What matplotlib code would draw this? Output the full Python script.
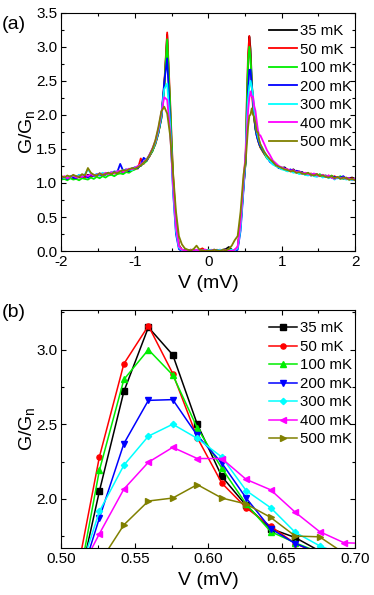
import numpy as np
import matplotlib
matplotlib.use('Agg')
import matplotlib.pyplot as plt
from matplotlib.ticker import MultipleLocator, FormatStrFormatter

plt.rcParams['font.family'] = ['Liberation Sans', 'DejaVu Sans']
plt.rcParams['axes.unicode_minus'] = False
plt.rcParams['mathtext.fontset'] = 'custom'
plt.rcParams['mathtext.rm'] = 'Liberation Sans'

# --- data -------------------------------------------------------------
labels = ['35 mK', '50 mK', '100 mK', '200 mK', '300 mK', '400 mK', '500 mK']
colors = ['#000000', '#ff0000', '#00ee00', '#0000ff', '#00ffff', '#ff00ff', '#808000']
markers = ['s', 'o', '^', 'v', 'D', '<', '>']

# voltage grids (mV)
v_left = np.linspace(-2.0, 0.48, 63)
v_peak = [0.5092, 0.5258, 0.5425, 0.5592, 0.5758, 0.5925, 0.6092,
          0.6258, 0.6425, 0.6592, 0.6758, 0.6925, 0.7092]
v_right = np.linspace(0.76, 2.0, 32)

# G/Gn around the positive coherence peak (panel b, also used in a)
g35_peak = [1.31, 2.05, 2.72, 3.15, 2.965, 2.50, 2.15, 1.955, 1.80, 1.74, 1.65, 1.58, 1.53]
g50_peak = [1.43, 2.28, 2.905, 3.16, 2.84, 2.41, 2.105, 1.94, 1.815, 1.70, 1.63, 1.57, 1.52]
g100_peak = [1.31, 2.19, 2.80, 3.00, 2.83, 2.475, 2.205, 1.965, 1.78, 1.705, 1.64, 1.58, 1.53]
g200_peak = [1.35, 1.87, 2.37, 2.66, 2.665, 2.425, 2.24, 2.005, 1.80, 1.70, 1.635, 1.58, 1.54]
g300_peak = [1.41, 1.915, 2.225, 2.42, 2.50, 2.405, 2.28, 2.055, 1.94, 1.775, 1.685, 1.62, 1.57]
g400_peak = [1.45, 1.765, 2.065, 2.245, 2.345, 2.27, 2.27, 2.13, 2.06, 1.91, 1.78, 1.705, 1.70]
g500_peak = [1.32, 1.57, 1.825, 1.985, 2.005, 2.095, 2.005, 1.965, 1.875, 1.75, 1.745, 1.635, 1.57]

# G/Gn from -2 to 0.48 mV
g35_left = [1.06, 1.08, 1.07, 1.09, 1.06, 1.10, 1.08, 1.11, 1.09, 1.12,
            1.10, 1.12, 1.11, 1.14, 1.12, 1.13, 1.15, 1.13, 1.16, 1.15,
            1.17, 1.15, 1.19, 1.17, 1.21, 1.20, 1.24, 1.25, 1.30, 1.33,
            1.40, 1.47, 1.59, 1.74, 1.95, 2.40, 3.18, 2.05, 1.02, 0.38,
            0.08, 0.02, 0.01, 0.00, 0.01, 0.02, 0.00, 0.01, 0.02, 0.01,
            0.00, 0.01, 0.02, 0.00, 0.01, 0.02, 0.03, 0.06, 0.02, 0.01,
            0.05, 0.38, 0.95]
g50_left = [1.08, 1.06, 1.09, 1.07, 1.08, 1.07, 1.10, 1.09, 1.08, 1.11,
            1.09, 1.12, 1.10, 1.13, 1.11, 1.14, 1.13, 1.15, 1.14, 1.17,
            1.15, 1.18, 1.17, 1.20, 1.19, 1.22, 1.21, 1.36, 1.28, 1.34,
            1.39, 1.48, 1.57, 1.73, 1.96, 2.45, 3.21, 2.22, 1.12, 0.42,
            0.09, 0.02, 0.00, 0.01, 0.02, 0.00, 0.01, 0.02, 0.04, 0.01,
            0.02, 0.00, 0.01, 0.02, 0.00, 0.01, 0.00, 0.02, 0.01, 0.02,
            0.06, 0.40, 1.00]
g100_left = [1.05, 1.06, 1.04, 1.07, 1.05, 1.06, 1.04, 1.07, 1.06, 1.05,
             1.08, 1.06, 1.09, 1.07, 1.10, 1.08, 1.11, 1.12, 1.10, 1.13,
             1.14, 1.13, 1.16, 1.15, 1.18, 1.20, 1.22, 1.26, 1.29, 1.32,
             1.40, 1.47, 1.58, 1.73, 1.94, 2.42, 3.11, 2.15, 1.08, 0.40,
             0.08, 0.01, 0.02, 0.00, 0.01, 0.02, 0.01, 0.00, 0.02, 0.01,
             0.01, 0.02, 0.00, 0.01, 0.02, 0.00, 0.01, 0.03, 0.01, 0.00,
             0.04, 0.37, 0.96]
g200_left = [1.07, 1.09, 1.06, 1.10, 1.08, 1.07, 1.12, 1.09, 1.11, 1.08,
             1.12, 1.10, 1.13, 1.11, 1.14, 1.12, 1.15, 1.14, 1.17, 1.16,
             1.28, 1.18, 1.20, 1.18, 1.21, 1.23, 1.22, 1.27, 1.37, 1.33,
             1.41, 1.50, 1.60, 1.75, 1.97, 2.48, 2.83, 1.90, 0.88, 0.25,
             0.03, 0.00, 0.01, 0.00, 0.02, 0.01, 0.00, 0.01, 0.00, 0.02,
             0.01, 0.00, 0.02, 0.01, 0.00, 0.01, 0.02, 0.00, 0.01, 0.00,
             0.02, 0.30, 0.90]
g300_left = [1.09, 1.07, 1.10, 1.08, 1.11, 1.09, 1.12, 1.10, 1.13, 1.20,
             1.14, 1.11, 1.13, 1.12, 1.15, 1.13, 1.14, 1.16, 1.15, 1.17,
             1.16, 1.19, 1.18, 1.20, 1.19, 1.22, 1.24, 1.27, 1.30, 1.35,
             1.41, 1.49, 1.60, 1.76, 1.99, 2.38, 2.46, 1.85, 0.92, 0.30,
             0.05, 0.01, 0.00, 0.02, 0.01, 0.00, 0.01, 0.02, 0.01, 0.00,
             0.02, 0.01, 0.00, 0.01, 0.02, 0.01, 0.00, 0.01, 0.02, 0.01,
             0.04, 0.33, 0.93]
g400_left = [1.08, 1.10, 1.07, 1.09, 1.11, 1.08, 1.10, 1.09, 1.12, 1.10,
             1.13, 1.11, 1.12, 1.14, 1.12, 1.15, 1.13, 1.16, 1.14, 1.17,
             1.18, 1.16, 1.19, 1.21, 1.20, 1.22, 1.25, 1.27, 1.31, 1.34,
             1.42, 1.51, 1.62, 1.79, 2.03, 2.26, 2.22, 1.75, 0.98, 0.36,
             0.07, 0.02, 0.01, 0.00, 0.02, 0.01, 0.02, 0.00, 0.01, 0.02,
             0.00, 0.01, 0.02, 0.00, 0.01, 0.00, 0.02, 0.01, 0.00, 0.02,
             0.06, 0.42, 1.02]
g500_left = [1.10, 1.08, 1.11, 1.09, 1.12, 1.10, 1.09, 1.13, 1.11, 1.22,
             1.15, 1.12, 1.11, 1.14, 1.12, 1.13, 1.15, 1.13, 1.16, 1.14,
             1.17, 1.19, 1.18, 1.20, 1.22, 1.21, 1.23, 1.26, 1.30, 1.34,
             1.41, 1.50, 1.63, 1.82, 2.05, 2.12, 2.02, 1.70, 1.15, 0.58,
             0.22, 0.10, 0.04, 0.02, 0.01, 0.03, 0.08, 0.02, 0.01, 0.00,
             0.01, 0.00, 0.02, 0.01, 0.00, 0.02, 0.01, 0.03, 0.08, 0.16,
             0.22, 0.58, 1.12]

# G/Gn from 0.76 to 2 mV
g35_right = [1.44, 1.38, 1.32, 1.30, 1.25, 1.24, 1.22, 1.23, 1.19, 1.18, 1.20, 1.16, 1.15, 1.16, 1.13, 1.14,
             1.12, 1.13, 1.11, 1.12, 1.10, 1.11, 1.09, 1.10, 1.08, 1.09, 1.07, 1.08, 1.06, 1.07, 1.08, 1.06]
g50_right = [1.43, 1.37, 1.34, 1.28, 1.27, 1.23, 1.21, 1.20, 1.20, 1.17, 1.18, 1.15, 1.16, 1.13, 1.15, 1.12,
             1.14, 1.11, 1.13, 1.10, 1.12, 1.09, 1.11, 1.08, 1.10, 1.07, 1.09, 1.06, 1.08, 1.05, 1.07, 1.04]
g100_right = [1.44, 1.36, 1.33, 1.29, 1.26, 1.22, 1.23, 1.19, 1.18, 1.19, 1.16, 1.17, 1.14, 1.15, 1.12, 1.13,
              1.11, 1.12, 1.10, 1.13, 1.09, 1.10, 1.08, 1.11, 1.07, 1.08, 1.10, 1.06, 1.07, 1.05, 1.06, 1.05]
g200_right = [1.45, 1.39, 1.31, 1.28, 1.27, 1.22, 1.21, 1.22, 1.18, 1.20, 1.16, 1.18, 1.17, 1.15, 1.13, 1.14,
              1.11, 1.13, 1.12, 1.10, 1.11, 1.09, 1.10, 1.08, 1.09, 1.07, 1.08, 1.10, 1.06, 1.07, 1.05, 1.06]
g300_right = [1.47, 1.37, 1.32, 1.27, 1.25, 1.23, 1.20, 1.19, 1.17, 1.18, 1.15, 1.16, 1.13, 1.14, 1.12, 1.11,
              1.13, 1.10, 1.09, 1.11, 1.08, 1.10, 1.07, 1.09, 1.05, 1.08, 1.06, 1.07, 1.05, 1.06, 1.04, 1.05]
g400_right = [1.58, 1.48, 1.41, 1.33, 1.29, 1.25, 1.23, 1.21, 1.20, 1.18, 1.19, 1.16, 1.17, 1.14, 1.15, 1.13,
              1.12, 1.14, 1.11, 1.10, 1.12, 1.09, 1.11, 1.08, 1.06, 1.09, 1.07, 1.08, 1.06, 1.07, 1.05, 1.06]
g500_right = [1.46, 1.40, 1.35, 1.31, 1.26, 1.24, 1.22, 1.20, 1.19, 1.17, 1.18, 1.15, 1.16, 1.14, 1.13, 1.15,
              1.12, 1.11, 1.13, 1.10, 1.11, 1.09, 1.08, 1.10, 1.07, 1.09, 1.06, 1.08, 1.07, 1.05, 1.06, 1.04]

peaks = [g35_peak, g50_peak, g100_peak, g200_peak, g300_peak, g400_peak, g500_peak]
lefts = [g35_left, g50_left, g100_left, g200_left, g300_left, g400_left, g500_left]
rights = [g35_right, g50_right, g100_right, g200_right, g300_right, g400_right, g500_right]

# --- figure -----------------------------------------------------------
fig = plt.figure(figsize=(3.74, 5.95), dpi=100)
ax1 = fig.add_axes([0.1644, 0.578, 0.785, 0.4006])
ax2 = fig.add_axes([0.1644, 0.079, 0.785, 0.400])

v_full = np.concatenate([v_left, v_peak, v_right])
for lab, c, gl, gp, gr in zip(labels, colors, lefts, peaks, rights):
    g_full = np.concatenate([gl, gp, gr])
    ax1.plot(v_full, g_full, color=c, lw=1.3, label=lab)

for lab, c, m, gp in zip(labels, colors, markers, peaks):
    ms = 3.2 if m == 'D' else 3.7
    ax2.plot(v_peak, gp, color=c, lw=1.1, marker=m, ms=ms, label=lab)

ax1.set_xlim(-2, 2)
ax1.set_ylim(0, 3.5)
ax1.xaxis.set_major_locator(MultipleLocator(1))
ax1.xaxis.set_minor_locator(MultipleLocator(0.5))
ax1.yaxis.set_major_locator(MultipleLocator(0.5))
ax1.yaxis.set_minor_locator(MultipleLocator(0.25))
ax1.yaxis.set_major_formatter(FormatStrFormatter('%.1f'))

ax2.set_xlim(0.5, 0.7)
ax2.set_ylim(1.67, 3.266)
ax2.xaxis.set_major_locator(MultipleLocator(0.05))
ax2.xaxis.set_minor_locator(MultipleLocator(0.025))
ax2.yaxis.set_major_locator(MultipleLocator(0.5))
ax2.yaxis.set_minor_locator(MultipleLocator(0.25))
ax2.xaxis.set_major_formatter(FormatStrFormatter('%.2f'))
ax2.yaxis.set_major_formatter(FormatStrFormatter('%.1f'))

for ax in (ax1, ax2):
    for s in ax.spines.values():
        s.set_linewidth(0.8)
    ax.tick_params(which='both', direction='in', top=True, right=True, width=0.8)
    ax.tick_params(which='major', length=3.5, labelsize=11, pad=3)
    ax.tick_params(which='minor', length=2)
    ax.set_xlabel('V (mV)', fontsize=14, labelpad=4)
    ax.set_ylabel('G/G$_\\mathregular{n}$', fontsize=14)
    ax.yaxis.set_label_coords(-0.08, 0.5)
    ax.legend(loc='upper right', bbox_to_anchor=(0.99, 0.952), frameon=False,
              fontsize=10.8, handlelength=1.85, handletextpad=0.22,
              labelspacing=0.30, borderaxespad=0, borderpad=0)

fig.text(0.005, 0.958, '(a)', fontsize=14, va='center', ha='left')
fig.text(0.005, 0.474, '(b)', fontsize=14, va='center', ha='left')

fig.savefig('out.png', dpi=100)
